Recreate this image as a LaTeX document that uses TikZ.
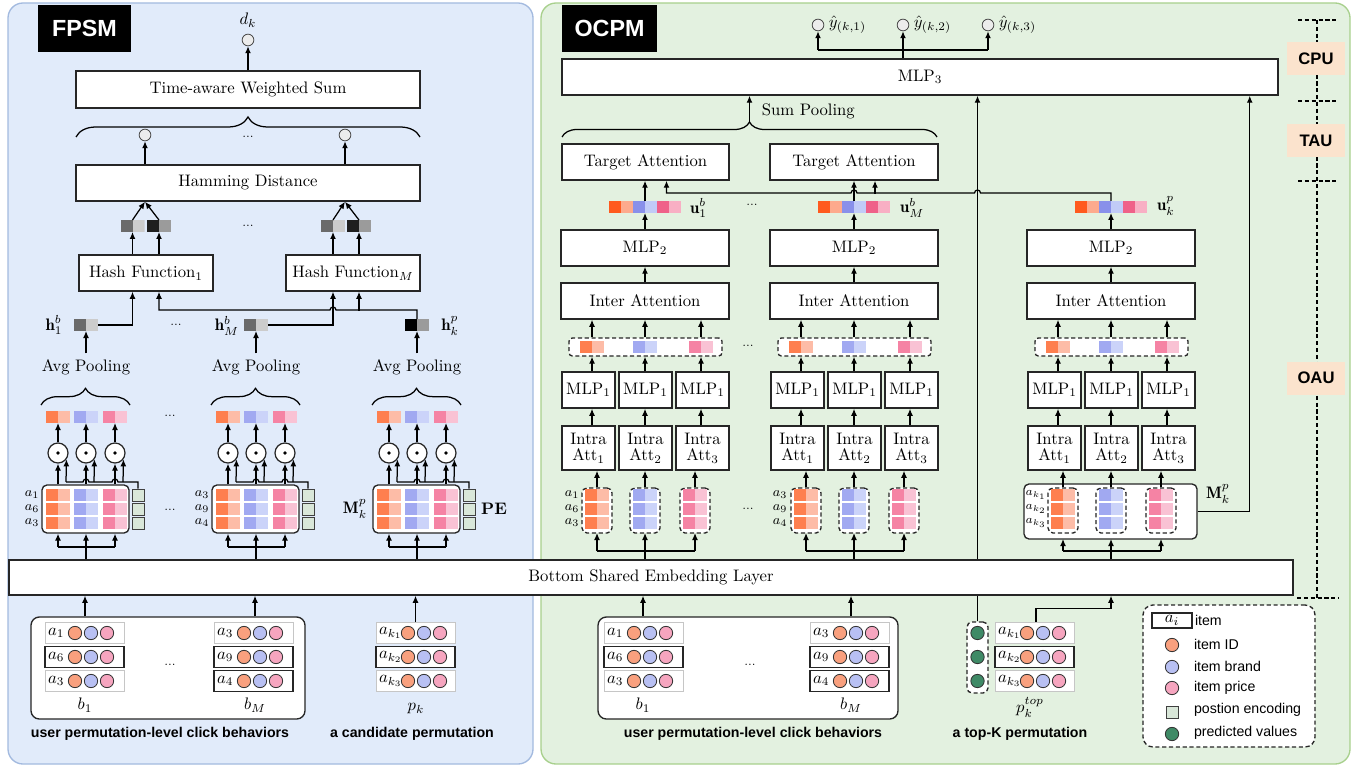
\documentclass[tikz,border=0pt]{standalone}
\usepackage{fontspec}
\setsansfont{Liberation Sans}
\usetikzlibrary{arrows.meta,positioning,calc,decorations.pathreplacing}

\definecolor{fpsmbg}{HTML}{E1EBFA}
\definecolor{fpsmline}{HTML}{A3BADF}
\definecolor{ocpmbg}{HTML}{E3F1E0}
\definecolor{ocpmline}{HTML}{A8D08D}
\definecolor{orgA}{HTML}{FE7F4F}
\definecolor{orgB}{HTML}{FDBCA7}
\definecolor{bluA}{HTML}{A1A9F1}
\definecolor{bluB}{HTML}{CBD3F9}
\definecolor{pnkA}{HTML}{F583A4}
\definecolor{pnkB}{HTML}{F9C2D4}
\definecolor{vorgA}{HTML}{FF5A1E}
\definecolor{vorgB}{HTML}{FDAA8D}
\definecolor{vbluA}{HTML}{8990EA}
\definecolor{vbluB}{HTML}{C1CBF7}
\definecolor{vpnkA}{HTML}{EF6189}
\definecolor{vpnkB}{HTML}{F8AFC4}
\definecolor{hgA}{HTML}{6A6A6A}
\definecolor{hgB}{HTML}{CCCCCC}
\definecolor{hgC}{HTML}{1E1E1E}
\definecolor{hgD}{HTML}{9B9B9B}
\definecolor{idc}{HTML}{F9A07E}
\definecolor{brandc}{HTML}{B8C0F3}
\definecolor{pricec}{HTML}{F6A5BF}
\definecolor{pec}{HTML}{D9E7D9}
\definecolor{predc}{HTML}{3F8A66}
\definecolor{tagc}{HTML}{FBE3CD}

\tikzset{
  arr/.style={-{Latex[length=4.2pt,width=3.6pt]},line width=0.75pt},
  ln/.style={line width=0.75pt},
  dashln/.style={line width=0.75pt,dash pattern=on 2.5pt off 1.6pt},
  blk/.style={draw=black!85,line width=0.9pt,fill=white,inner sep=1pt,align=center},
  panel/.style={rounded corners=9pt,line width=0.8pt},
  hdr/.style={fill=black,draw=none,text=white,font=\sffamily\bfseries\fontsize{14}{16}\selectfont},
  mat/.style={rounded corners=3pt,line width=0.8pt},
  beh/.style={rounded corners=5pt,line width=0.8pt},
  catbox/.style={rounded corners=2pt,line width=0.8pt,dash pattern=on 2.5pt off 1.6pt},
  grp/.style={rounded corners=3pt,line width=0.8pt,dash pattern=on 2.5pt off 1.6pt},
  legbox/.style={rounded corners=6pt,line width=0.8pt,dash pattern=on 2.5pt off 1.6pt},
  duo/.style 2 args={minimum width=14.4pt,minimum height=7.2pt,inner sep=0pt,outer sep=0pt,
    path picture={\fill[#1] (path picture bounding box.south west) rectangle (path picture bounding box.north);
                  \fill[#2] (path picture bounding box.south) rectangle (path picture bounding box.north east);}},
  pe/.style={draw=black!75,fill=pec,line width=0.5pt,minimum size=7.2pt,inner sep=0pt},
  dot/.style={circle,draw=black!80,line width=0.5pt,minimum size=8pt,inner sep=0pt},
  outc/.style={circle,draw=black!70,fill=gray!15,line width=0.5pt,minimum size=7pt,inner sep=0pt},
  odot/.style={circle,draw=black!85,line width=0.75pt,fill=white,minimum size=12pt,inner sep=0pt,
    path picture={\fill[black] (path picture bounding box.center) circle (1.1pt);}},
  rowbox/.style={fill=white,inner sep=0pt,minimum width=47.4pt,minimum height=12.6pt},
  rowlite/.style={draw=gray!45,line width=0.5pt},
  rowdark/.style={draw=black!85,line width=0.9pt},
  rlab/.style={font=\footnotesize,inner sep=0pt},
  vlab/.style={inner sep=0.5pt},
  dots/.style={font=\scriptsize,inner sep=0pt},
  curly/.style={decorate,decoration={brace,amplitude=#1},line width=0.75pt},
  captxt/.style={font=\sffamily\bfseries\fontsize{8.5}{10}\selectfont},
  legtxt/.style={anchor=west,inner sep=1pt,font=\sffamily\fontsize{8.5}{10}\selectfont},
  tagbox/.style={fill=tagc,minimum width=34.8pt,minimum height=19.8pt,font=\sffamily\bfseries\fontsize{10}{12}\selectfont},
}

% box given by its corners (in pixels of the figure)
\newcommand{\boxat}[7][]{\node[blk,#1,minimum width={((#5)-(#3))*0.6pt},minimum height={((#6)-(#4))*0.6pt}] (#2) at ({((#3)+(#5))/2},{((#4)+(#6))/2}) {#7};}

% one clicked item: name, left x, y, label, frame style, first circle offset
\newcommand{\itemrow}[6]{%
  \node[rowbox,#5] (#1) at ({#2+39.5},#3) {};
  \node[anchor=west,inner sep=1pt] (#1l) at ({#2+1},#3) {$#4$};
  \node[dot,fill=idc] (#1i) at ({#2+#6},#3) {};
  \node[dot,fill=brandc] (#1b) at ({#2+#6+16},#3) {};
  \node[dot,fill=pricec] (#1p) at ({#2+#6+32},#3) {};
}

\begin{document}
\begin{tikzpicture}[x=0.6pt,y=-0.6pt]
  \useasboundingbox (0,0) rectangle (1367,768);

  % panels
  \boxat[panel,fill=fpsmbg,draw=fpsmline]{fpsm}{8}{3}{533}{764}{}
  \boxat[panel,fill=ocpmbg,draw=ocpmline]{ocpm}{541}{3}{1350}{764}{}
  \boxat[hdr]{fpsmtag}{38}{5}{131}{52}{FPSM}
  \boxat[hdr]{ocpmtag}{562}{5}{657}{52}{OCPM}

  % MLP3, predicted values and the shared embedding on top of their link
  \boxat{mlp3}{562}{59}{1278}{95}{MLP$_3$}
  \boxat[grp]{pred}{967}{622}{988}{693}{}
  \foreach \yy [count=\kk] in {633,657,681}
    \node[dot,fill=predc] (pv\kk) at (977.5,\yy) {};
  \draw[arr] (pred.north) -- (pred.north |- mlp3.south);
  \boxat{emb}{9}{560}{1293}{595}{Bottom Shared Embedding Layer}

  % ---------------- FPSM ----------------
  \node[outc] (dk) at (248,40) {};
  \node (dklab) at (248,20) {$d_k$};
  \boxat{tws}{76}{71}{420}{108}{Time-aware Weighted Sum}
  \draw[arr] (tws) -- (dk);
  \draw[curly=12pt] (76,137) -- (420,137);
  \node[outc] (hd1) at (145,135) {};
  \node[outc] (hd2) at (345,135) {};
  \node[dots] (hddots) at (248,137) {...};
  \boxat{ham}{76}{165}{420}{201}{Hamming Distance}
  \draw[arr] (ham.north -| hd1) -- (hd1);
  \draw[arr] (ham.north -| hd2) -- (hd2);

  \node[duo={hgA}{hgB}] (hs1) at (132.5,226) {};
  \node[duo={hgC}{hgD}] (hs2) at (159,226) {};
  \node[duo={hgA}{hgB}] (hs3) at (333,226) {};
  \node[duo={hgC}{hgD}] (hs4) at (359,226) {};
  \node[dots] (hsdots) at (248,226) {...};
  \draw[arr] (hs1.north) -- (ham.south -| hd1);
  \draw[arr] (hs2.north) -- (ham.south -| hd1);
  \draw[arr] (hs3.north) -- (ham.south -| hd2);
  \draw[arr] (hs4.north) -- (ham.south -| hd2);

  \boxat{hf1}{79}{255}{213}{291}{Hash Function$_1$}
  \boxat{hfM}{286}{255}{420}{291}{Hash Function$_M$}
  \draw[arr] (hf1.north -| hs1) -- (hs1);
  \draw[arr] (hf1.north -| hs2) -- (hs2);
  \draw[arr] (hfM.north -| hs3) -- (hs3);
  \draw[arr] (hfM.north -| hs4) -- (hs4);

  \node[duo={hgA}{hgB}] (hA) at (86,325) {};
  \node[duo={hgA}{hgB}] (hB) at (256,325) {};
  \node[duo={black}{hgD}] (hC) at (417,325) {};
  \node[vlab] (hAlab) at (54,325) {$\mathbf{h}_1^b$};
  \node[vlab] (hBlab) at (227,326) {$\mathbf{h}_M^b$};
  \node[vlab] (hClab) at (450,326) {$\mathbf{h}_k^p$};
  \node[dots] (hdots) at (176,325) {...};
  \draw[arr] (hA.east) -| (hf1.south -| hs1);
  \draw[arr] (hB.east) -| (hfM.south -| hs3);
  \draw[arr] (hC.north) |- (336,310) arc[start angle=0,end angle=180,radius=1.8pt] -| (hf1.south -| hs2);
  \draw[arr] ($(hfM.south -| hs4)+(0,19)$) -- (hfM.south -| hs4);

  \foreach \cx/\id in {86/A,256/B,417/C}{
    \boxat[mat]{m\id}{\cx-44}{485}{\cx+43}{533}{}
    \foreach \ry [count=\rr] in {495,509,523}{
      \node[duo={orgA}{orgB}] (m\id o\rr) at (\cx-28,\ry) {};
      \node[duo={bluA}{bluB}] (m\id b\rr) at (\cx,\ry) {};
      \node[duo={pnkA}{pnkB}] (m\id p\rr) at (\cx+29,\ry) {};
      \node[pe] (pe\id\rr) at (\cx+52,\ry) {};
    }
    \node[odot] (o1\id) at (\cx-28,453) {};
    \node[odot] (o2\id) at (\cx,453) {};
    \node[odot] (o3\id) at (\cx+29,453) {};
    \draw[arr] (m\id.north -| o1\id) -- (o1\id);
    \draw[arr] (m\id.north -| o2\id) -- (o2\id);
    \draw[arr] (m\id.north -| o3\id) -- (o3\id);
    \draw[ln] (pe\id1.north) |- (\cx+32,482) arc[start angle=0,end angle=180,radius=1.8pt]
      -- (\cx+3,482) arc[start angle=0,end angle=180,radius=1.8pt] -- (\cx-20,482);
    \draw[arr] (\cx-20,482) -- (o1\id.-37);
    \draw[arr] (\cx+8,482) -- (o2\id.-37);
    \draw[arr] (\cx+37,482) -- (o3\id.-37);
    \node[duo={orgA}{orgB}] (q1\id) at (\cx-28,417) {};
    \node[duo={bluA}{bluB}] (q2\id) at (\cx,417) {};
    \node[duo={pnkA}{pnkB}] (q3\id) at (\cx+29,417) {};
    \draw[arr] (o1\id) -- (q1\id);
    \draw[arr] (o2\id) -- (q2\id);
    \draw[arr] (o3\id) -- (q3\id);
    \draw[curly=10pt] (\cx-45,405) -- (\cx+44,405);
    \node (avg\id) at (\cx,367) {Avg Pooling};
    \draw[arr] (avg\id) -- (h\id);
    \draw[ln] (emb.north -| o2\id) -- (\cx,547);
    \draw[ln] (\cx-28,547) -- (\cx+29,547);
    \draw[arr] (\cx-28,547) -- (m\id.south -| o1\id);
    \draw[arr] (\cx,547) -- (m\id.south -| o2\id);
    \draw[arr] (\cx+29,547) -- (m\id.south -| o3\id);
  }
  \node[rlab] (la1) at (32,495) {$a_1$};
  \node[rlab] (la2) at (32,509) {$a_6$};
  \node[rlab] (la3) at (32,523) {$a_3$};
  \node[rlab] (lb1) at (202,495) {$a_3$};
  \node[rlab] (lb2) at (202,509) {$a_9$};
  \node[rlab] (lb3) at (202,523) {$a_4$};
  \node[vlab] (mkpf) at (355,509) {$\mathbf{M}_k^p$};
  \node[vlab] (pelab) at (494,509) {\textbf{PE}};
  \node[dots] (qdots) at (170,416) {...};
  \node[dots] (mdots) at (170,510) {...};

  % clicked permutations and the candidate
  \boxat[beh]{fbeh}{31}{617}{305}{719}{}
  \itemrow{fa1}{45}{633}{a_1}{rowlite}{30}
  \itemrow{fa2}{45}{657}{a_6}{rowdark}{30}
  \itemrow{fa3}{45}{681}{a_3}{rowlite}{30}
  \itemrow{fm1}{214}{633}{a_3}{rowlite}{30}
  \itemrow{fm2}{214}{657}{a_9}{rowdark}{30}
  \itemrow{fm3}{214}{681}{a_4}{rowdark}{30}
  \itemrow{fp1}{376}{633}{a_{k_1}}{rowlite}{32}
  \itemrow{fp2}{376}{657}{a_{k_2}}{rowdark}{32}
  \itemrow{fp3}{376}{681}{a_{k_3}}{rowlite}{32}
  \node (fb1) at (85,705) {$b_1$};
  \node (fbM) at (255,705) {$b_M$};
  \node (fpk) at (416,709) {$p_k$};
  \node[dots] (fdots) at (170,665) {...};
  \draw[arr] (fbeh.north -| fb1) -- (emb.south -| fb1);
  \draw[arr] (fbeh.north -| fbM) -- (emb.south -| fbM);
  \draw[arr] (fp1.north) -- (emb.south -| fp1);
  \node[captxt] (capA) at (160,734) {user permutation-level click behaviors};
  \node[captxt] (capB) at (412,734) {a candidate permutation};

  % ---------------- OCPM ----------------
  \node[outc] (y1) at (818,25) {};
  \node[outc] (y2) at (903,25) {};
  \node[outc] (y3) at (988,25) {};
  \node[vlab,right=2pt of y1] (y1lab) {$\hat{y}_{(k,1)}$};
  \node[vlab,right=2pt of y2] (y2lab) {$\hat{y}_{(k,2)}$};
  \node[vlab,right=2pt of y3] (y3lab) {$\hat{y}_{(k,3)}$};
  \coordinate (ysplit) at (903,50);
  \draw[arr] (mlp3.north -| y2) -- (y2);
  \draw[ln] (ysplit -| y1) -- (ysplit -| y3);
  \draw[arr] (ysplit -| y1) -- (y1);
  \draw[arr] (ysplit -| y3) -- (y3);

  \draw[curly=9pt] (562,137) -- (937,137);
  \coordinate (sptip) at (749.5,122);
  \draw[arr] (sptip) -- (sptip |- mlp3.south);
  \node[anchor=west] (splab) at (756,111) {Sum Pooling};

  \boxat{taA}{562}{144}{729}{180}{Target Attention}
  \boxat{taB}{770}{144}{938}{180}{Target Attention}

  \boxat[mat]{mkp}{1024}{484}{1197}{539}{}
  \node[vlab] (mkplab) at (1218,494) {$\mathbf{M}_k^p$};
  \draw[arr] (mkp.east) -| ($(mlp3.south east)+(-29,0)$);

  \foreach \cx/\id/\yb in {645/A/533,854/B/533,1111/C/539}{
    \boxat{mlpb\id}{\cx-84}{230}{\cx+84}{266}{MLP$_2$}
    \boxat{inter\id}{\cx-84}{283}{\cx+84}{319}{Inter Attention}
    \boxat[catbox]{cat\id}{\cx-76}{338}{\cx+77}{356}{}
    \node[duo={orgA}{orgB}] (s1\id) at (\cx-53,347) {};
    \node[duo={bluA}{bluB}] (s2\id) at (\cx,347) {};
    \node[duo={pnkA}{pnkB}] (s3\id) at (\cx+56,347) {};
    \boxat{ma1\id}{\cx-83}{372}{\cx-30}{408}{MLP$_1$}
    \boxat{ma2\id}{\cx-26}{372}{\cx+27}{408}{MLP$_1$}
    \boxat{ma3\id}{\cx+31}{372}{\cx+84}{408}{MLP$_1$}
    \boxat{ia1\id}{\cx-83}{426}{\cx-30}{470}{Intra\\[-2pt]Att$_1$}
    \boxat{ia2\id}{\cx-26}{426}{\cx+27}{470}{Intra\\[-2pt]Att$_2$}
    \boxat{ia3\id}{\cx+31}{426}{\cx+84}{470}{Intra\\[-2pt]Att$_3$}
    \foreach \kk in {1,2,3}{
      \draw[arr] (ia\kk\id.north -| s\kk\id) -- (ma\kk\id.south -| s\kk\id);
      \draw[arr] (ma\kk\id.north -| s\kk\id) -- (cat\id.south -| s\kk\id);
      \draw[arr] (cat\id.north -| s\kk\id) -- (inter\id.south -| s\kk\id);
    }
    \draw[arr] (inter\id) -- (mlpb\id);
    \node[duo={vorgA}{vorgB}] (ul\id) at (\cx-24,207) {};
    \node[duo={vbluA}{vbluB}] (u\id) at (\cx,207) {};
    \node[duo={vpnkA}{vpnkB}] (ur\id) at (\cx+24,207) {};
    \draw[arr] (mlpb\id) -- (u\id);
    \foreach \gx/\kk/\ca/\cb in {-48/1/orgA/orgB,0/2/bluA/bluB,50/3/pnkA/pnkB}{
      \boxat[grp]{g\kk\id}{\cx+\gx-15}{488}{\cx+\gx+15}{533}{}
      \foreach \ry [count=\rr] in {495,509,523}
        \node[duo={\ca}{\cb}] (g\kk\id\rr) at (\cx+\gx,\ry) {};
      \draw[arr] (g\kk\id.north) -- (g\kk\id.north |- ia\kk\id.south);
    }
    \draw[ln] (emb.north -| u\id) -- (\cx,551);
    \draw[ln] (\cx-48,551) -- (\cx+50,551);
    \draw[arr] (\cx-48,551) -- (\cx-48,\yb);
    \draw[arr] (\cx,551) -- (\cx,\yb);
    \draw[arr] (\cx+50,551) -- (\cx+50,\yb);
  }
  \draw[arr] (uA) -- (taA.south -| uA);
  \draw[arr] (uB) -- (taB.south -| uB);
  \draw[arr] (uC.north) |- (980.5,193) arc[start angle=0,end angle=180,radius=1.8pt]
    -- (857,193) arc[start angle=0,end angle=180,radius=1.8pt] -| ($(taA.south)+(21,0)$);
  \draw[arr] ($(taB.south)+(21,13)$) -- ($(taB.south)+(21,0)$);
  \node[vlab,anchor=west] (uAlab) at (689,208) {$\mathbf{u}_1^b$};
  \node[vlab,anchor=west] (uBlab) at (899,208) {$\mathbf{u}_M^b$};
  \node[vlab,anchor=west] (uClab) at (1156,206) {$\mathbf{u}_k^p$};
  \node[dots] (udots) at (752,205) {...};
  \node[dots] (cdots) at (748,346) {...};
  \node[dots] (gdots) at (748,509) {...};
  \node[rlab] (oa1) at (572,495) {$a_1$};
  \node[rlab] (oa2) at (572,509) {$a_6$};
  \node[rlab] (oa3) at (572,523) {$a_3$};
  \node[rlab] (ob1l) at (780,495) {$a_3$};
  \node[rlab] (ob2l) at (780,509) {$a_9$};
  \node[rlab] (ob3l) at (780,523) {$a_4$};
  \node[rlab] (oc1) at (1036,495) {\scriptsize$a_{k_1}$};
  \node[rlab] (oc2) at (1036,509) {\scriptsize$a_{k_2}$};
  \node[rlab] (oc3) at (1036,523) {\scriptsize$a_{k_3}$};

  % clicked permutations and the top-K list
  \boxat[beh]{obeh}{598}{617}{898}{719}{}
  \itemrow{oa1r}{604}{633}{a_1}{rowlite}{30}
  \itemrow{oa2r}{604}{657}{a_6}{rowdark}{30}
  \itemrow{oa3r}{604}{681}{a_3}{rowlite}{30}
  \itemrow{om1r}{810}{633}{a_3}{rowlite}{30}
  \itemrow{om2r}{810}{657}{a_9}{rowdark}{30}
  \itemrow{om3r}{810}{681}{a_4}{rowdark}{30}
  \itemrow{ot1r}{995}{633}{a_{k_1}}{rowlite}{32}
  \itemrow{ot2r}{995}{657}{a_{k_2}}{rowdark}{32}
  \itemrow{ot3r}{995}{681}{a_{k_3}}{rowlite}{32}
  \node (ob1) at (643,705) {$b_1$};
  \node (obM) at (851,705) {$b_M$};
  \node (optop) at (1030,707) {$p_k^{top}$};
  \node[dots] (odots) at (750,665) {...};
  \draw[arr] (obeh.north -| ob1) -- (emb.south -| ob1);
  \draw[arr] (obeh.north -| obM) -- (emb.south -| obM);
  \draw[arr] ($(ot1r.north)+(1.5,0)$) |- ($(emb.south -| uC)+(0,13)$) -- (emb.south -| uC);
  \node[captxt] (capC) at (753,734) {user permutation-level click behaviors};
  \node[captxt] (capD) at (1020,734) {a top-K permutation};

  % legend
  \boxat[legbox]{leg}{1143}{605}{1315}{747}{}
  \node[draw=black!85,line width=0.8pt,fill=white,minimum width=24pt,minimum height=9pt,inner sep=0pt] (lgai) at (1172,620.5) {$a_i$};
  \node[legtxt] (lgait) at (1193,620) {item};
  \node[dot,fill=idc] (lgid) at (1172,645) {};
  \node[legtxt] (lgidt) at (1192,644) {item ID};
  \node[dot,fill=brandc] (lgbr) at (1172,667) {};
  \node[legtxt] (lgbrt) at (1192,666) {item brand};
  \node[dot,fill=pricec] (lgpr) at (1172,688) {};
  \node[legtxt] (lgprt) at (1192,688) {item price};
  \node[pe] (lgpe) at (1172,712) {};
  \node[legtxt] (lgpet) at (1192,710) {postion encoding};
  \node[dot,fill=predc] (lgpv) at (1172,734) {};
  \node[legtxt] (lgpvt) at (1192,733) {predicted values};

  % stages on the right
  \draw[dashln] (1317,20) -- (1317,598);
  \foreach \yy in {20,101,181}
    \draw[dashln] (1298,\yy) -- (1338,\yy);
  \draw[dashln] (1297,598) -- (1339,598);
  \node[tagbox] (cpu) at (1316,59) {CPU};
  \node[tagbox] (tau) at (1316,141) {TAU};
  \node[tagbox] (oau) at (1316,378) {OAU};
\end{tikzpicture}
\end{document}
